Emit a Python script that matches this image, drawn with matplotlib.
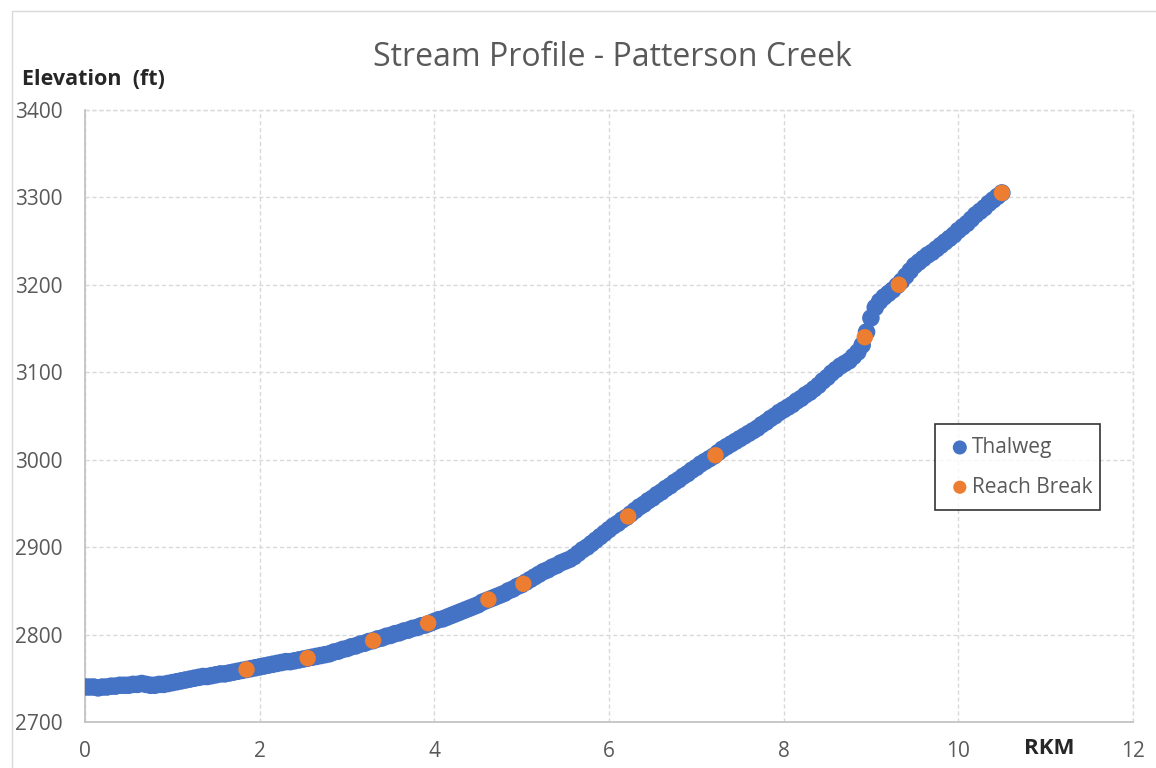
import matplotlib.pyplot as plt
from matplotlib.patches import Rectangle

# Thalweg points (RKM, elevation ft), read every 0.05 km
thalweg_rkm = [
    0.00, 0.05, 0.10, 0.15, 0.20, 0.25, 0.30, 0.35, 0.40, 0.45, 0.50, 0.55, 0.60, 0.65, 0.70, 0.75, 0.80, 0.85, 0.90, 0.95,
    1.00, 1.05, 1.10, 1.15, 1.20, 1.25, 1.30, 1.35, 1.40, 1.45, 1.50, 1.55, 1.60, 1.65, 1.70, 1.75, 1.80, 1.85, 1.90, 1.95,
    2.00, 2.05, 2.10, 2.15, 2.20, 2.25, 2.30, 2.35, 2.40, 2.45, 2.50, 2.55, 2.60, 2.65, 2.70, 2.75, 2.80, 2.85, 2.90, 2.95,
    3.00, 3.05, 3.10, 3.15, 3.20, 3.25, 3.30, 3.35, 3.40, 3.45, 3.50, 3.55, 3.60, 3.65, 3.70, 3.75, 3.80, 3.85, 3.90, 3.95,
    4.00, 4.05, 4.10, 4.15, 4.20, 4.25, 4.30, 4.35, 4.40, 4.45, 4.50, 4.55, 4.60, 4.65, 4.70, 4.75, 4.80, 4.85, 4.90, 4.95,
    5.00, 5.05, 5.10, 5.15, 5.20, 5.25, 5.30, 5.35, 5.40, 5.45, 5.50, 5.55, 5.60, 5.65, 5.70, 5.75, 5.80, 5.85, 5.90, 5.95,
    6.00, 6.05, 6.10, 6.15, 6.20, 6.25, 6.30, 6.35, 6.40, 6.45, 6.50, 6.55, 6.60, 6.65, 6.70, 6.75, 6.80, 6.85, 6.90, 6.95,
    7.00, 7.05, 7.10, 7.15, 7.20, 7.25, 7.30, 7.35, 7.40, 7.45, 7.50, 7.55, 7.60, 7.65, 7.70, 7.75, 7.80, 7.85, 7.90, 7.95,
    8.00, 8.05, 8.10, 8.15, 8.20, 8.25, 8.30, 8.35, 8.40, 8.45, 8.50, 8.55, 8.60, 8.65, 8.70, 8.75, 8.80, 8.85, 8.90, 8.95,
    9.00, 9.05, 9.10, 9.15, 9.20, 9.25, 9.30, 9.35, 9.40, 9.45, 9.50, 9.55, 9.60, 9.65, 9.70, 9.75, 9.80, 9.85, 9.90, 9.95,
    10.00, 10.05, 10.10, 10.15, 10.20, 10.25, 10.30, 10.35, 10.40, 10.45, 10.50]
thalweg_elev = [
    2740, 2740, 2740, 2739, 2740, 2740, 2741, 2741, 2742, 2742, 2742, 2743, 2743, 2744, 2743, 2742, 2742, 2743, 2743, 2744,
    2745, 2746, 2747, 2748, 2749, 2750, 2751, 2752, 2752, 2753, 2754, 2755, 2755, 2756, 2757, 2758, 2759, 2760, 2761, 2762,
    2763, 2764, 2765, 2766, 2767, 2768, 2769, 2769, 2770, 2771, 2772, 2773, 2774, 2775, 2776, 2777, 2778, 2780, 2781, 2783,
    2784, 2786, 2787, 2789, 2790, 2792, 2793, 2795, 2796, 2798, 2799, 2801, 2802, 2804, 2805, 2807, 2808, 2810, 2811, 2813,
    2815, 2817, 2818, 2820, 2822, 2824, 2826, 2828, 2830, 2832, 2834, 2837, 2839, 2841, 2843, 2845, 2847, 2850, 2852, 2855,
    2857, 2860, 2863, 2866, 2869, 2872, 2874, 2877, 2879, 2882, 2884, 2886, 2889, 2893, 2897, 2900, 2904, 2908, 2912, 2916,
    2920, 2924, 2927, 2931, 2934, 2938, 2942, 2946, 2949, 2953, 2956, 2960, 2963, 2967, 2970, 2974, 2977, 2981, 2984, 2988,
    2991, 2995, 2998, 3001, 3004, 3008, 3012, 3015, 3018, 3021, 3024, 3027, 3030, 3033, 3036, 3040, 3043, 3047, 3050, 3054,
    3057, 3060, 3063, 3067, 3070, 3074, 3077, 3081, 3085, 3090, 3094, 3099, 3103, 3107, 3110, 3113, 3118, 3123, 3131, 3146,
    3162, 3174, 3181, 3186, 3190, 3194, 3199, 3204, 3210, 3216, 3222, 3226, 3230, 3234, 3237, 3241, 3245, 3249, 3253, 3257,
    3262, 3266, 3270, 3275, 3280, 3284, 3288, 3293, 3297, 3301, 3305]

# Reach breaks
break_rkm = [1.85, 2.55, 3.3, 3.93, 4.62, 5.02, 6.22, 7.22, 8.93, 9.32, 10.5]
break_elev = [2760, 2773, 2793, 2813, 2840, 2858, 2935, 3005, 3140, 3200, 3305]

x_ticks = [0, 2, 4, 6, 8, 10, 12]
y_ticks = [2700, 2800, 2900, 3000, 3100, 3200, 3300, 3400]

plt.rcParams['font.family'] = ['Open Sans', 'DejaVu Sans']

fig = plt.figure(figsize=(11.56, 7.68), dpi=100)
ax = fig.add_axes([0.0735, 0.0599, 0.9065, 0.7971])

# outer chart border
fig.patches.append(Rectangle((12 / 1156, -0.01), 1.02, 1 - 11 / 768 + 0.01,
                             transform=fig.transFigure, fill=False,
                             edgecolor='#D9D9D9', linewidth=1))

ax.scatter(thalweg_rkm, thalweg_elev, s=160, color='#4472C4', edgecolors='none',
           label='Thalweg', zorder=3)
ax.scatter(break_rkm, break_elev, s=140, color='#ED7D31', edgecolors='none',
           label='Reach Break', zorder=4)

ax.set_xlim(0, 12)
ax.set_ylim(2700, 3400)
ax.set_xticks(x_ticks)
ax.set_yticks(y_ticks)
ax.grid(True, color='#D9D9D9', linestyle=(0, (3, 2)), linewidth=1)
ax.set_axisbelow(True)
for s in ['top', 'right']:
    ax.spines[s].set_visible(False)
for s in ['bottom', 'left']:
    ax.spines[s].set_color('#BFBFBF')
    ax.spines[s].set_linewidth(1.2)
ax.axhline(3400, color='#D9D9D9', linestyle=(0, (3, 2)), linewidth=1, clip_on=False)
ax.axvline(12, color='#D9D9D9', linestyle=(0, (3, 2)), linewidth=1, clip_on=False)

ax.tick_params(length=0, labelsize=15, labelcolor='#595959')
ax.tick_params(axis='x', pad=14)
ax.tick_params(axis='y', pad=16)

fig.text(0.53, 0.925, 'Stream Profile - Patterson Creek', ha='center', va='center',
         fontsize=23, color='#595959')
fig.text(0.019, 0.897, 'Elevation  (ft)', ha='left', va='center',
         fontsize=15.5, fontweight='bold', color='#262626')
fig.text(0.908, 0.026, 'RKM', ha='center', va='center',
         fontsize=16, fontweight='bold', color='#262626')

leg = ax.legend(loc='lower left', bbox_to_anchor=(0.811, 0.346, 0.158, 0.147),
                mode='expand', frameon=True, fancybox=False, fontsize=15,
                handletextpad=0.0, handlelength=1.2, borderpad=0.6,
                labelspacing=0.9, scatterpoints=1, markerscale=0.8,
                borderaxespad=0)
leg.get_frame().set_edgecolor('black')
leg.get_frame().set_linewidth(1.2)
for t in leg.get_texts():
    t.set_color('#595959')

plt.savefig('out.png', dpi=100)
